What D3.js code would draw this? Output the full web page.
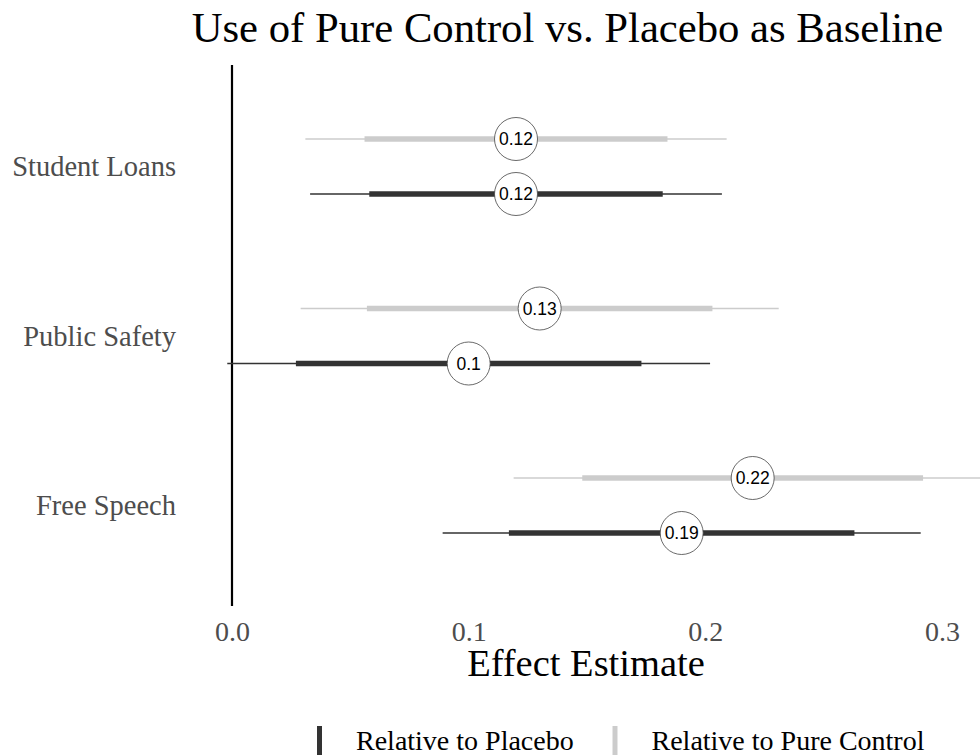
<!DOCTYPE html>
<html lang="en">
<head>
    <meta charset="UTF-8">
    <title>Use of Pure Control vs. Placebo as Baseline</title>
    <script src="https://d3js.org/d3.v7.min.js"></script>
    <style>
        body {
            margin: 0;
            padding: 0;
            background-color: white;
        }
        svg {
            display: block;
            font-family: 'Liberation Serif', serif;
        }
    </style>
</head>
<body>
    <svg width="980" height="755"></svg>

    <script>
        // data
        const categories = ["Student Loans", "Public Safety", "Free Speech"];
        const series = ["Relative to Pure Control", "Relative to Placebo"];
        const estimates = {
            "Relative to Pure Control": [0.12, 0.13, 0.22],
            "Relative to Placebo": [0.12, 0.10, 0.19]
        };
        // outer (thin) interval
        const outerLow = {
            "Relative to Pure Control": [0.031, 0.029, 0.119],
            "Relative to Placebo": [0.033, -0.002, 0.089]
        };
        const outerHigh = {
            "Relative to Pure Control": [0.209, 0.231, 0.321],
            "Relative to Placebo": [0.207, 0.202, 0.291]
        };
        // inner (thick) interval
        const innerLow = {
            "Relative to Pure Control": [0.056, 0.057, 0.148],
            "Relative to Placebo": [0.058, 0.027, 0.117]
        };
        const innerHigh = {
            "Relative to Pure Control": [0.184, 0.203, 0.292],
            "Relative to Placebo": [0.182, 0.173, 0.263]
        };
        const xTicks = [0.0, 0.1, 0.2, 0.3];
        const legendOrder = ["Relative to Placebo", "Relative to Pure Control"];

        const colors = {"Relative to Placebo": "#333333", "Relative to Pure Control": "#cccccc"};

        const rows = [];
        series.forEach(s => {
            categories.forEach((c, i) => {
                rows.push({
                    cat: c, series: s,
                    est: estimates[s][i],
                    lo: outerLow[s][i], hi: outerHigh[s][i],
                    lo2: innerLow[s][i], hi2: innerHigh[s][i]
                });
            });
        });

        const svg = d3.select("svg");

        const x = d3.scaleLinear().domain([0, 0.3]).range([232, 942]);
        const y = d3.scalePoint().domain(categories).range([166.5, 505.5]);
        const dodge = d3.scalePoint().domain(series).range([-27.5, 27.5]);
        const yPos = d => y(d.cat) + dodge(d.series);

        // title
        svg.append("text")
            .attr("x", 567.5).attr("y", 42)
            .attr("text-anchor", "middle")
            .style("font-size", "42.7px")
            .style("fill", "#000")
            .text("Use of Pure Control vs. Placebo as Baseline");

        // zero line
        svg.append("line")
            .attr("x1", x(0)).attr("x2", x(0))
            .attr("y1", 65).attr("y2", 606)
            .attr("stroke", "#000")
            .attr("stroke-width", 2.2);

        // y labels
        svg.append("g")
            .selectAll("text")
            .data(categories)
            .enter().append("text")
            .attr("x", 176)
            .attr("y", d => y(d))
            .attr("dy", "0.35em")
            .attr("text-anchor", "end")
            .style("font-size", "28.5px")
            .style("fill", "#4d4d4d")
            .text(d => d);

        // x axis labels
        const xAxis = svg.append("g")
            .attr("transform", "translate(0,620)")
            .call(d3.axisBottom(x).tickValues(xTicks).tickFormat(d3.format(".1f")).tickSize(0).tickPadding(0));
        xAxis.select(".domain").remove();
        xAxis.selectAll("text")
            .attr("dy", "0.74em")
            .style("font-family", "'Liberation Serif', serif")
            .style("font-size", "28px")
            .style("fill", "#4d4d4d");

        svg.append("text")
            .attr("x", 586).attr("y", 676)
            .attr("text-anchor", "middle")
            .style("font-size", "38.5px")
            .style("fill", "#000")
            .text("Effect Estimate");

        const g = svg.append("g");

        // thin intervals
        g.selectAll(".outer")
            .data(rows)
            .enter().append("line")
            .attr("class", "outer")
            .attr("x1", d => x(d.lo)).attr("x2", d => x(d.hi))
            .attr("y1", yPos).attr("y2", yPos)
            .attr("stroke", d => colors[d.series])
            .attr("stroke-width", 1.6);

        // thick intervals
        g.selectAll(".inner")
            .data(rows)
            .enter().append("line")
            .attr("class", "inner")
            .attr("x1", d => x(d.lo2)).attr("x2", d => x(d.hi2))
            .attr("y1", yPos).attr("y2", yPos)
            .attr("stroke", d => colors[d.series])
            .attr("stroke-width", 5.5);

        // point labels
        const pts = g.selectAll(".pt")
            .data(rows)
            .enter().append("g")
            .attr("class", "pt")
            .attr("transform", d => `translate(${x(d.est)},${yPos(d)})`);

        pts.append("circle")
            .attr("r", 21.5)
            .attr("fill", "white")
            .attr("stroke", "#444")
            .attr("stroke-width", 0.8);

        pts.append("text")
            .attr("text-anchor", "middle")
            .attr("dy", "0.36em")
            .style("font-family", "'Liberation Sans', Arial, sans-serif")
            .style("font-size", "17.5px")
            .style("fill", "#000")
            .text(d => d3.format("")(d.est));

        // legend
        const legend = svg.append("g")
            .selectAll("g")
            .data(legendOrder)
            .enter().append("g")
            .attr("transform", (d, i) => `translate(${i === 0 ? 319.5 : 615},741)`);

        legend.append("line")
            .attr("y1", -15).attr("y2", 16)
            .attr("stroke", d => colors[d])
            .attr("stroke-width", 5);

        legend.append("text")
            .attr("x", 36.5)
            .attr("y", 9)
            .style("font-size", "28px")
            .style("fill", "#000")
            .text(d => d);
    </script>
</body>
</html>
